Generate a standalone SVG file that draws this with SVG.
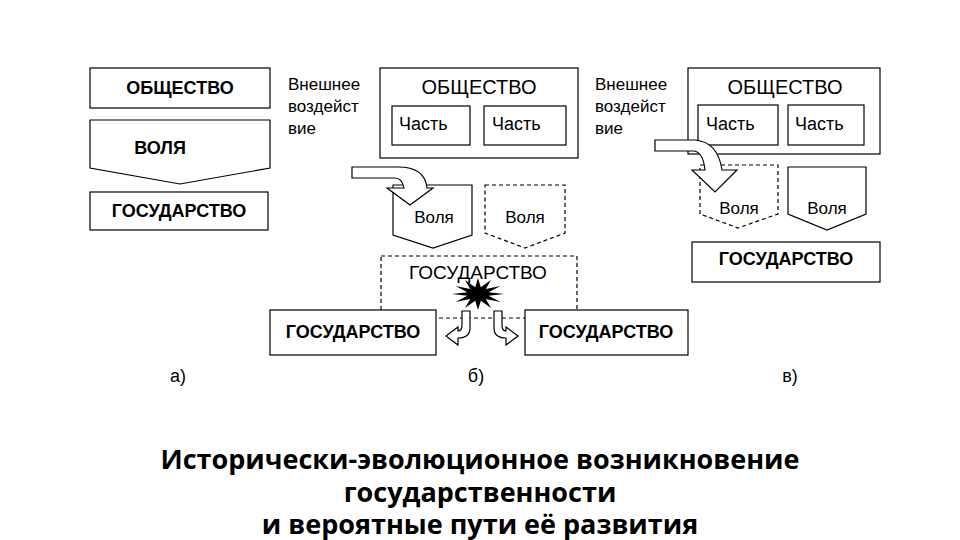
<svg xmlns="http://www.w3.org/2000/svg" width="960" height="540" viewBox="0 0 960 540">
<style>
.b{fill:#fff;stroke:#000;stroke-width:1.2}
.d{fill:#fff;stroke:#000;stroke-width:1.2;stroke-dasharray:4 3}
text{font-family:"Liberation Sans",Arial,sans-serif;fill:#000}
.h{font-size:18px;font-weight:bold;text-anchor:middle}
.n{font-size:17px;text-anchor:middle}
.l{font-size:17px}
.p{font-size:18px}
.t{font-family:"Open Sans","Noto Sans",sans-serif;font-size:27px;font-weight:bold;text-anchor:middle}
</style>
<rect width="960" height="540" fill="#fff"/>
<g id="a-society"><rect class="b" x="90" y="68" width="180" height="40"/><text class="h" x="180" y="94">ОБЩЕСТВО</text></g>
<g id="a-will"><path class="b" d="M90,120 H270 V168 L180,184 L90,168 Z"/><text class="h" x="160" y="154">ВОЛЯ</text></g>
<g id="a-state"><rect class="b" x="90" y="192" width="178" height="38"/><text class="h" x="179" y="217">ГОСУДАРСТВО</text></g>
<g id="b-ext"><text class="l" x="288" y="90">Внешнее</text><text class="l" x="288" y="112">воздейст</text><text class="l" x="288" y="134">вие</text></g>
<g id="b-society"><rect class="b" x="380" y="68" width="198" height="90"/><text class="n" x="479" y="94" style="font-size:20px">ОБЩЕСТВО</text>
<rect class="b" x="392" y="106" width="78" height="39"/><text class="p" x="399" y="130">Часть</text>
<rect class="b" x="484" y="106" width="82" height="39"/><text class="p" x="492" y="130">Часть</text></g>
<g id="b-will1"><path class="b" d="M393,185 H472 V235 L433,248 L393,235 Z"/><text class="n" x="434" y="223">Воля</text></g>
<g id="b-will2"><path class="d" d="M485,185 H565 V233 L525,248 L485,233 Z"/><text class="n" x="525" y="223">Воля</text></g>
<g id="b-state"><rect class="d" x="381" y="256" width="196" height="62"/><text class="n" x="478" y="279" style="font-size:19px">ГОСУДАРСТВО</text></g>
<g id="b-state-l"><rect class="b" x="270" y="310" width="166" height="45"/><text class="h" x="353" y="338">ГОСУДАРСТВО</text></g>
<g id="b-state-r"><rect class="b" x="525" y="310" width="163" height="45"/><text class="h" x="606" y="338">ГОСУДАРСТВО</text></g>
<g id="b-burst"><polygon fill="#000" points="504,294 488.6,295.8 500.5,302 485.8,299 491,307.9 480.8,300.8 478,310 475.2,300.8 465,307.9 470.2,299 455.5,302 467.4,295.8 452,294 467.4,292.2 455.5,286 470.2,289 465,280.1 475.2,287.2 478,278 480.8,287.2 491,280.1 485.8,289 500.5,286 488.6,292.2"/></g>
<g id="c-ext"><text class="l" x="595" y="90">Внешнее</text><text class="l" x="595" y="112">воздейст</text><text class="l" x="595" y="134">вие</text></g>
<g id="c-society"><rect class="b" x="688" y="68" width="192" height="86"/><text class="n" x="785" y="94" style="font-size:20px">ОБЩЕСТВО</text>
<rect class="b" x="698" y="105" width="80" height="40"/><text class="p" x="706" y="130">Часть</text>
<rect class="b" x="788" y="105" width="76" height="40"/><text class="p" x="795" y="130">Часть</text></g>
<g id="c-will1"><path class="d" d="M700,165 H778 V214 L738,228 L700,214 Z"/><text class="n" x="739" y="214">Воля</text></g>
<g id="c-will2"><path class="b" d="M788,167 H866 V214 L827,230 L788,214 Z"/><text class="n" x="827" y="214">Воля</text></g>
<g id="c-state"><rect class="b" x="692" y="242" width="188" height="40"/><text class="h" x="786" y="265">ГОСУДАРСТВО</text></g>
<g id="connectors">
<path class="b" d="M352,167 L398,167 Q425,167 427,188 L433,188 L410,205 L387,188 L404,188 Q402,178 395,178 L352,178 Z"/>
<path class="b" d="M655,140 L695,140 Q718,142 722,170 L737,170 L715,192 L692,170 L705,170 Q703,151 693,151 L655,151 Z"/>
<path class="b" d="M462,311 L470,311 L470,328 Q470,338 458,338 L458,345 L446,336 L458,327 L458,331 Q462,331 462,325 Z"/>
<path class="b" d="M494,311 L502,311 L502,325 Q502,331 506,331 L506,327 L518,336 L506,345 L506,338 Q494,338 494,328 Z"/>
</g>
<g id="labels"><text class="n" x="178" y="382" style="font-size:18px">а)</text><text class="n" x="476" y="382" style="font-size:18px">б)</text><text class="n" x="790" y="382" style="font-size:18px">в)</text></g>
<g id="title"><text class="t" x="480" y="469">Исторически-эволюционное возникновение</text><text class="t" x="480" y="502">государственности</text><text class="t" x="480" y="534">и вероятные пути её развития</text></g>
</svg>
